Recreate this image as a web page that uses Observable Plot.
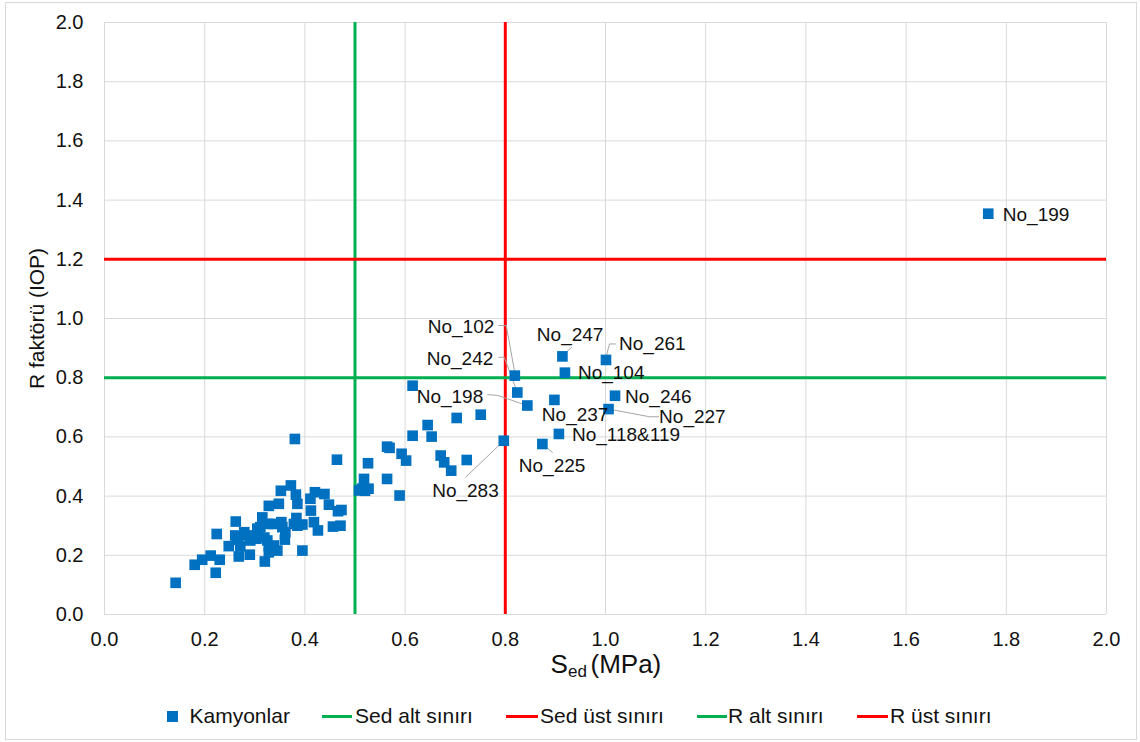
<!DOCTYPE html>
<html><head><meta charset="utf-8">
<script src="https://cdn.jsdelivr.net/npm/d3@7"></script>
<script src="https://cdn.jsdelivr.net/npm/@observablehq/plot@0.6"></script>
<style>
body{margin:0;background:#fff;font-family:"Liberation Sans",Arial,sans-serif;}
#frame{position:absolute;left:5px;top:2px;width:1132px;height:738px;border:1px solid #d9d9d9;box-sizing:border-box;background:#fff;overflow:hidden}
#legend{position:relative;height:47px}
.lg{position:absolute}
.lt{position:absolute;font-size:21px;line-height:24px;top:13px;color:#111;white-space:nowrap}
</style></head><body>
<div id="frame"><div id="chart"></div><div id="legend"></div></div>
<script>
// ---- data ----
const tickValues = [0, 0.2, 0.4, 0.6, 0.8, 1.0, 1.2, 1.4, 1.6, 1.8, 2.0];
const tickLabels = ["0.0","0.2","0.4","0.6","0.8","1.0","1.2","1.4","1.6","1.8","2.0"];

const sedValues = [0.142,0.180,0.195,0.212,0.222,0.230,0.224,0.248,0.262,0.261,0.266,0.271,0.268,0.279,0.285,0.290,0.291,0.303,0.305,0.311,0.315,0.319,0.320,0.325,0.326,0.328,0.328,0.328,0.338,0.338,0.345,0.348,0.352,0.353,0.355,0.360,0.361,0.372,0.380,0.382,0.383,0.385,0.385,0.378,0.395,0.395,0.411,0.412,0.418,0.420,0.426,0.439,0.448,0.456,0.464,0.466,0.471,0.473,0.508,0.514,0.518,0.526,0.527,0.520,0.564,0.569,0.564,0.589,0.593,0.602,0.615,0.615,0.645,0.653,0.671,0.678,0.692,0.703,0.723,0.751];
const rValues   = [0.107,0.168,0.185,0.199,0.141,0.185,0.272,0.231,0.314,0.267,0.252,0.230,0.196,0.278,0.267,0.202,0.250,0.256,0.290,0.295,0.328,0.260,0.179,0.250,0.306,0.367,0.230,0.210,0.306,0.233,0.216,0.374,0.418,0.312,0.295,0.253,0.278,0.436,0.593,0.405,0.326,0.374,0.300,0.306,0.304,0.216,0.391,0.351,0.312,0.413,0.284,0.407,0.371,0.297,0.523,0.349,0.300,0.353,0.419,0.425,0.458,0.511,0.425,0.418,0.567,0.563,0.458,0.402,0.543,0.520,0.773,0.604,0.640,0.601,0.537,0.514,0.486,0.664,0.522,0.675];

const labelNames = ["No_199","No_102","No_242","No_198","No_247","No_104","No_261","No_246","No_227","No_237","No_118&119","No_225","No_283"];
const labelSed   = [1.764,0.819,0.824,0.844,0.914,0.919,1.001,1.019,1.006,0.898,0.907,0.874,0.797];
const labelR     = [1.354,0.807,0.750,0.706,0.872,0.817,0.860,0.739,0.694,0.725,0.610,0.576,0.587];

const legendNames = ["Kamyonlar","Sed alt sınırı","Sed üst sınırı","R alt sınırı","R üst sınırı"];
const sedLimits = [0.5, 0.8];   // Sed alt sınırı, Sed üst sınırı
const rLimits   = [0.8, 1.2];   // R alt sınırı, R üst sınırı

// ---- layout / styles ----
const BLUE = "#0070C0", GREEN = "#00B050", RED = "#FF0000", GRID = "#d9d9d9";
const limitColors = [GREEN, RED];
const labelLayout = {
  "No_199": {tx:1.793, ty:1.350, anchor:"start"},
  "No_102": {tx:0.778, ty:0.970, anchor:"end", leader:[[0.787,0.976],[0.802,0.976],[0.819,0.816]]},
  "No_242": {tx:0.776, ty:0.863, anchor:"end", leader:[[0.787,0.869],[0.798,0.869],[0.822,0.759]]},
  "No_198": {tx:0.756, ty:0.736, anchor:"end", leader:[[0.765,0.743],[0.785,0.740],[0.840,0.708]]},
  "No_247": {tx:0.863, ty:0.945, anchor:"start", leader:[[0.932,0.902],[0.916,0.877]]},
  "No_104": {tx:0.945, ty:0.815, anchor:"start"},
  "No_261": {tx:1.027, ty:0.914, anchor:"start", leader:[[1.020,0.914],[1.008,0.914],[1.001,0.869]]},
  "No_246": {tx:1.039, ty:0.734, anchor:"start"},
  "No_227": {tx:1.107, ty:0.666, anchor:"start", leader:[[1.106,0.668],[1.088,0.668],[1.007,0.694]]},
  "No_237": {tx:0.873, ty:0.675, anchor:"start"},
  "No_118&119": {tx:0.933, ty:0.607, anchor:"start"},
  "No_225": {tx:0.827, ty:0.503, anchor:"start", leader:[[0.894,0.548],[0.874,0.576]]},
  "No_283": {tx:0.654, ty:0.419, anchor:"start", leader:[[0.721,0.464],[0.797,0.587]]}
};

const points = sedValues.map((s,i)=>({sed:s, r:rValues[i]}));
const labeled = labelNames.map((n,i)=>({name:n, sed:labelSed[i], r:labelR[i], ...labelLayout[n]}));
const allPoints = points.concat(labeled.map(d=>({sed:d.sed, r:d.r})));
const leaders = [];
labeled.forEach(d => { if (d.leader) d.leader.forEach(p => leaders.push({name:d.name, x:p[0], y:p[1]})); });
const sedLimitData = sedLimits.map((v,i)=>({v, c:limitColors[i]}));
const rLimitData = rLimits.map((v,i)=>({v, c:limitColors[i]}));
const fmt = v => tickLabels[tickValues.indexOf(v)];
const TXT = "#111";

const chart = Plot.plot({
  width: 1130, height: 688,
  marginLeft: 98, marginTop: 19, marginRight: 30, marginBottom: 77,
  style: {fontFamily: '"Liberation Sans", Arial, sans-serif', fontSize: "20px", color: TXT, background: "#fff", overflow: "visible"},
  x: {domain: [0, 2]},
  y: {domain: [0, 2]},
  marks: [
    Plot.gridX(tickValues, {stroke: GRID, strokeOpacity: 1, strokeWidth: 1}),
    Plot.gridY(tickValues, {stroke: GRID, strokeOpacity: 1, strokeWidth: 1}),
    Plot.axisX(tickValues, {tickSize: 0, tickPadding: 17, tickFormat: fmt, label: null, fontSize: 20, fill: TXT}),
    Plot.axisY(tickValues, {tickSize: 0, tickPadding: 21, tickFormat: fmt, label: null, fontSize: 20, fill: TXT}),
    Plot.ruleX(sedLimitData, {x: "v", stroke: "c", strokeWidth: 3}),
    Plot.ruleY(rLimitData, {y: "v", stroke: "c", strokeWidth: 3}),
    Plot.line(leaders, {x: "x", y: "y", z: "name", stroke: "#a6a6a6", strokeWidth: 1}),
    Plot.dot(allPoints, {x: "sed", y: "r", symbol: "square", r: 6, fill: BLUE, stroke: "none"}),
    Plot.text(labeled.filter(d=>d.anchor==="start"), {x: "tx", y: "ty", text: "name", textAnchor: "start", lineAnchor: "middle", fontSize: 19, fill: TXT}),
    Plot.text(labeled.filter(d=>d.anchor==="end"), {x: "tx", y: "ty", text: "name", textAnchor: "end", lineAnchor: "middle", fontSize: 19, fill: TXT}),
    // axis titles
    Plot.text(["R faktörü (IOP)"], {frameAnchor: "left", rotate: -90, dx: -67, fontSize: 21, fill: TXT, textAnchor: "middle", lineAnchor: "middle"}),
    Plot.text(["S"], {frameAnchor: "bottom", dx: -55, dy: 58, textAnchor: "start", lineAnchor: "bottom", fontSize: 26, fill: TXT}),
    Plot.text(["ed"], {frameAnchor: "bottom", dx: -37.5, dy: 62, textAnchor: "start", lineAnchor: "bottom", fontSize: 17, fill: TXT}),
    Plot.text(["(MPa)"], {frameAnchor: "bottom", dx: -15, dy: 58, textAnchor: "start", lineAnchor: "bottom", fontSize: 26, fill: TXT})
  ]
});
document.getElementById("chart").appendChild(chart);

// ---- legend (below the SVG) ----
const legend = document.getElementById("legend");
const legendSwatch = [
  {kind:"square", color:BLUE, left:161, w:11},
  {kind:"line", color:GREEN, left:316, w:30},
  {kind:"line", color:RED, left:500, w:32},
  {kind:"line", color:GREEN, left:691, w:30},
  {kind:"line", color:RED, left:851, w:31}
];
const legendTextLeft = [183.5, 349, 534, 722, 884];
legendNames.forEach((name, i) => {
  const s = legendSwatch[i];
  const sw = document.createElement("div");
  sw.className = "lg";
  sw.style.left = s.left + "px";
  sw.style.width = s.w + "px";
  if (s.kind === "square") { sw.style.top = "19.5px"; sw.style.height = "11px"; }
  else { sw.style.top = "23.5px"; sw.style.height = "3px"; }
  sw.style.background = s.color;
  legend.appendChild(sw);
  const t = document.createElement("span");
  t.className = "lt";
  t.style.left = legendTextLeft[i] + "px";
  t.textContent = name;
  legend.appendChild(t);
});
</script>
</body></html>
